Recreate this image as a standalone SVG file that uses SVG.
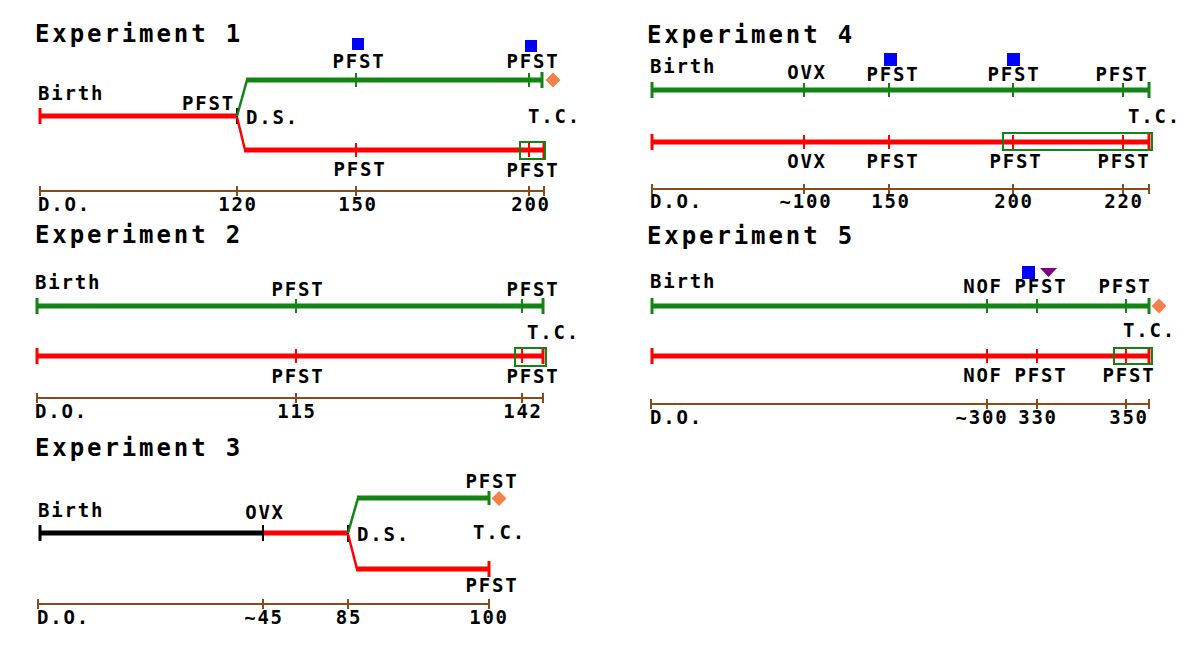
<svg xmlns="http://www.w3.org/2000/svg" width="1200" height="666" viewBox="0 0 1200 666">
<style>
.title{font-family:"DejaVu Sans Mono","Liberation Mono",monospace;font-weight:bold;font-size:24px;letter-spacing:2.9px;fill:#000}
.lbl{font-family:"DejaVu Sans Mono","Liberation Mono",monospace;font-weight:bold;font-size:19px;letter-spacing:1.8px;fill:#000}
.c{text-anchor:middle}
.g{stroke:#138313;stroke-width:5;fill:none}
.r{stroke:#ff0000;stroke-width:5;fill:none}
.k{stroke:#000;stroke-width:5;fill:none}
.gd{stroke:#138313;stroke-width:2.5;fill:none}
.rd{stroke:#ff0000;stroke-width:2.5;fill:none}
.gt{stroke:#138313;stroke-width:2}
.rt{stroke:#ff0000;stroke-width:2}
.kt{stroke:#000;stroke-width:2}
.ge{stroke:#138313;stroke-width:3}
.re{stroke:#ff0000;stroke-width:3}
.ke{stroke:#000;stroke-width:3}
.ax{stroke:#8b4a17;stroke-width:2;fill:none}
.box{fill:none;stroke:#138313;stroke-width:2}
.sq{fill:#0000ff}
.dia{fill:#f5804a}
.tri{fill:#800080}
</style>

<!-- Experiment 1 -->
<g id="exp1">
  <text class="title" x="35" y="42">Experiment 1</text>
  <g id="exp1-lines">
    <line class="r" x1="40" y1="116" x2="237" y2="116"/>
    <line class="re" x1="40" y1="108" x2="40" y2="124"/>
    <line class="kt" x1="237" y1="108" x2="237" y2="124"/>
    <polyline class="gd" points="237,116 247,80"/>
    <line class="g" x1="246" y1="80" x2="542" y2="80"/>
    <line class="gt" x1="356" y1="73" x2="356" y2="87"/>
    <line class="gt" x1="529" y1="73" x2="529" y2="87"/>
    <line class="ge" x1="542" y1="72" x2="542" y2="88"/>
    <polyline class="rd" points="237,117 245,150"/>
    <line class="r" x1="244" y1="150" x2="544" y2="150"/>
    <line class="rt" x1="356" y1="143" x2="356" y2="157"/>
    <line class="rt" x1="529" y1="143" x2="529" y2="157"/>
    <line class="re" x1="544" y1="142" x2="544" y2="158"/>
    <rect class="box" x="520" y="142" width="25" height="17"/>
  </g>
  <rect class="sq" x="352" y="38" width="12" height="12"/>
  <rect class="sq" x="525" y="40" width="12" height="12"/>
  <polygon class="dia" points="553,72.5 560.5,80 553,87.5 545.5,80"/>
  <text class="lbl" x="38" y="100">Birth</text>
  <text class="lbl" x="182" y="110">PFST</text>
  <text class="lbl" x="246" y="124">D.S.</text>
  <text class="lbl c" x="359" y="68">PFST</text>
  <text class="lbl c" x="533" y="68">PFST</text>
  <text class="lbl" x="528" y="123">T.C.</text>
  <text class="lbl c" x="360" y="176">PFST</text>
  <text class="lbl c" x="533" y="177">PFST</text>
  <g id="exp1-axis">
    <line class="ax" x1="40" y1="191" x2="544" y2="191"/>
    <line class="ax" x1="40" y1="186" x2="40" y2="196"/>
    <line class="ax" x1="237" y1="186" x2="237" y2="196"/>
    <line class="ax" x1="356" y1="186" x2="356" y2="196"/>
    <line class="ax" x1="529" y1="186" x2="529" y2="196"/>
    <line class="ax" x1="544" y1="186" x2="544" y2="196"/>
  </g>
  <text class="lbl" x="38" y="211">D.O.</text>
  <text class="lbl c" x="238" y="211">120</text>
  <text class="lbl c" x="358" y="211">150</text>
  <text class="lbl c" x="531" y="211">200</text>
</g>

<!-- Experiment 2 -->
<g id="exp2">
  <text class="title" x="35" y="243">Experiment 2</text>
  <g id="exp2-lines">
    <line class="g" x1="37" y1="306" x2="543" y2="306"/>
    <line class="ge" x1="37" y1="298" x2="37" y2="314"/>
    <line class="gt" x1="296" y1="299" x2="296" y2="313"/>
    <line class="gt" x1="522" y1="299" x2="522" y2="313"/>
    <line class="ge" x1="543" y1="298" x2="543" y2="314"/>
    <line class="r" x1="37" y1="356" x2="543" y2="356"/>
    <line class="re" x1="37" y1="348" x2="37" y2="364"/>
    <line class="rt" x1="296" y1="349" x2="296" y2="363"/>
    <line class="rt" x1="522" y1="349" x2="522" y2="363"/>
    <line class="re" x1="543" y1="348" x2="543" y2="364"/>
    <rect class="box" x="515" y="348" width="31" height="18"/>
  </g>
  <text class="lbl" x="35" y="289">Birth</text>
  <text class="lbl c" x="298" y="296">PFST</text>
  <text class="lbl c" x="533" y="296">PFST</text>
  <text class="lbl" x="527" y="339">T.C.</text>
  <text class="lbl c" x="298" y="383">PFST</text>
  <text class="lbl c" x="533" y="383">PFST</text>
  <g id="exp2-axis">
    <line class="ax" x1="37" y1="398" x2="543" y2="398"/>
    <line class="ax" x1="37" y1="393" x2="37" y2="403"/>
    <line class="ax" x1="296" y1="393" x2="296" y2="403"/>
    <line class="ax" x1="522" y1="393" x2="522" y2="403"/>
    <line class="ax" x1="543" y1="393" x2="543" y2="403"/>
  </g>
  <text class="lbl" x="35" y="418">D.O.</text>
  <text class="lbl c" x="297" y="418">115</text>
  <text class="lbl c" x="523" y="418">142</text>
</g>

<!-- Experiment 3 -->
<g id="exp3">
  <text class="title" x="35" y="456">Experiment 3</text>
  <g id="exp3-lines">
    <line class="k" x1="40" y1="533" x2="263" y2="533"/>
    <line class="ke" x1="40" y1="525" x2="40" y2="541"/>
    <line class="r" x1="263" y1="533" x2="348" y2="533"/>
    <line class="kt" x1="263" y1="525" x2="263" y2="541"/>
    <line class="kt" x1="348" y1="525" x2="348" y2="542"/>
    <polyline class="gd" points="348,533 358,498"/>
    <line class="g" x1="357" y1="498" x2="489" y2="498"/>
    <line class="ge" x1="489" y1="491" x2="489" y2="505"/>
    <polyline class="rd" points="348,534 357,569"/>
    <line class="r" x1="356" y1="569" x2="489" y2="569"/>
    <line class="re" x1="489" y1="561" x2="489" y2="577"/>
  </g>
  <polygon class="dia" points="499,491 506.5,498.5 499,506 491.5,498.5"/>
  <text class="lbl" x="38" y="517">Birth</text>
  <text class="lbl c" x="265" y="519">OVX</text>
  <text class="lbl" x="357" y="541">D.S.</text>
  <text class="lbl c" x="492" y="488">PFST</text>
  <text class="lbl" x="473" y="539">T.C.</text>
  <text class="lbl c" x="492" y="592">PFST</text>
  <g id="exp3-axis">
    <line class="ax" x1="38" y1="604" x2="489" y2="604"/>
    <line class="ax" x1="38" y1="599" x2="38" y2="609"/>
    <line class="ax" x1="263" y1="599" x2="263" y2="609"/>
    <line class="ax" x1="348" y1="599" x2="348" y2="609"/>
    <line class="ax" x1="489" y1="599" x2="489" y2="609"/>
  </g>
  <text class="lbl" x="37" y="624">D.O.</text>
  <text class="lbl c" x="264" y="624">~45</text>
  <text class="lbl c" x="349" y="624">85</text>
  <text class="lbl c" x="489" y="624">100</text>
</g>

<!-- Experiment 4 -->
<g id="exp4">
  <text class="title" x="647" y="43">Experiment 4</text>
  <g id="exp4-lines">
    <line class="g" x1="652" y1="90" x2="1149" y2="90"/>
    <line class="ge" x1="652" y1="82" x2="652" y2="98"/>
    <line class="gt" x1="804" y1="83" x2="804" y2="97"/>
    <line class="gt" x1="889" y1="83" x2="889" y2="97"/>
    <line class="gt" x1="1013" y1="83" x2="1013" y2="97"/>
    <line class="gt" x1="1123" y1="83" x2="1123" y2="97"/>
    <line class="ge" x1="1149" y1="82" x2="1149" y2="98"/>
    <line class="r" x1="652" y1="142" x2="1149" y2="142"/>
    <line class="re" x1="652" y1="134" x2="652" y2="150"/>
    <line class="rt" x1="804" y1="135" x2="804" y2="149"/>
    <line class="rt" x1="889" y1="135" x2="889" y2="149"/>
    <line class="rt" x1="1013" y1="135" x2="1013" y2="149"/>
    <line class="rt" x1="1123" y1="135" x2="1123" y2="149"/>
    <line class="re" x1="1149" y1="134" x2="1149" y2="150"/>
    <rect class="box" x="1003" y="133" width="149" height="17"/>
  </g>
  <rect class="sq" x="884" y="53" width="13" height="13"/>
  <rect class="sq" x="1007" y="53" width="13" height="13"/>
  <text class="lbl" x="650" y="73">Birth</text>
  <text class="lbl c" x="807" y="79">OVX</text>
  <text class="lbl c" x="893" y="81">PFST</text>
  <text class="lbl c" x="1014" y="81">PFST</text>
  <text class="lbl c" x="1122" y="81">PFST</text>
  <text class="lbl" x="1128" y="123">T.C.</text>
  <text class="lbl c" x="807" y="168">OVX</text>
  <text class="lbl c" x="893" y="168">PFST</text>
  <text class="lbl c" x="1016" y="168">PFST</text>
  <text class="lbl c" x="1124" y="168">PFST</text>
  <g id="exp4-axis">
    <line class="ax" x1="652" y1="189" x2="1149" y2="189"/>
    <line class="ax" x1="652" y1="184" x2="652" y2="194"/>
    <line class="ax" x1="804" y1="184" x2="804" y2="194"/>
    <line class="ax" x1="889" y1="184" x2="889" y2="194"/>
    <line class="ax" x1="1013" y1="184" x2="1013" y2="194"/>
    <line class="ax" x1="1123" y1="184" x2="1123" y2="194"/>
    <line class="ax" x1="1149" y1="184" x2="1149" y2="194"/>
  </g>
  <text class="lbl" x="650" y="208">D.O.</text>
  <text class="lbl c" x="806" y="208">~100</text>
  <text class="lbl c" x="891" y="208">150</text>
  <text class="lbl c" x="1014" y="208">200</text>
  <text class="lbl c" x="1124" y="208">220</text>
</g>

<!-- Experiment 5 -->
<g id="exp5">
  <text class="title" x="647" y="244">Experiment 5</text>
  <g id="exp5-lines">
    <line class="g" x1="652" y1="306" x2="1149" y2="306"/>
    <line class="ge" x1="652" y1="298" x2="652" y2="314"/>
    <line class="gt" x1="987" y1="299" x2="987" y2="313"/>
    <line class="gt" x1="1037" y1="299" x2="1037" y2="313"/>
    <line class="gt" x1="1126" y1="299" x2="1126" y2="313"/>
    <line class="ge" x1="1149" y1="298" x2="1149" y2="314"/>
    <line class="r" x1="652" y1="356" x2="1149" y2="356"/>
    <line class="re" x1="652" y1="348" x2="652" y2="364"/>
    <line class="rt" x1="987" y1="349" x2="987" y2="363"/>
    <line class="rt" x1="1037" y1="349" x2="1037" y2="363"/>
    <line class="rt" x1="1126" y1="349" x2="1126" y2="363"/>
    <line class="re" x1="1149" y1="348" x2="1149" y2="364"/>
    <rect class="box" x="1114" y="348" width="38" height="16"/>
  </g>
  <polygon class="dia" points="1159,298.5 1166.5,306 1159,313.5 1151.5,306"/>
  <rect class="sq" x="1022" y="266" width="13" height="13"/>
  <polygon class="tri" points="1040,268 1057,268 1048.5,277"/>
  <text class="lbl" x="650" y="288">Birth</text>
  <text class="lbl c" x="983" y="293">NOF</text>
  <text class="lbl c" x="1041" y="293">PFST</text>
  <text class="lbl c" x="1125" y="293">PFST</text>
  <text class="lbl" x="1123" y="337">T.C.</text>
  <text class="lbl c" x="983" y="382">NOF</text>
  <text class="lbl c" x="1041" y="382">PFST</text>
  <text class="lbl c" x="1129" y="382">PFST</text>
  <g id="exp5-axis">
    <line class="ax" x1="651" y1="404" x2="1149" y2="404"/>
    <line class="ax" x1="651" y1="399" x2="651" y2="409"/>
    <line class="ax" x1="987" y1="399" x2="987" y2="409"/>
    <line class="ax" x1="1037" y1="399" x2="1037" y2="409"/>
    <line class="ax" x1="1126" y1="399" x2="1126" y2="409"/>
    <line class="ax" x1="1149" y1="399" x2="1149" y2="409"/>
  </g>
  <text class="lbl" x="650" y="424">D.O.</text>
  <text class="lbl c" x="982" y="424">~300</text>
  <text class="lbl c" x="1038" y="424">330</text>
  <text class="lbl c" x="1129" y="424">350</text>
</g>
</svg>
